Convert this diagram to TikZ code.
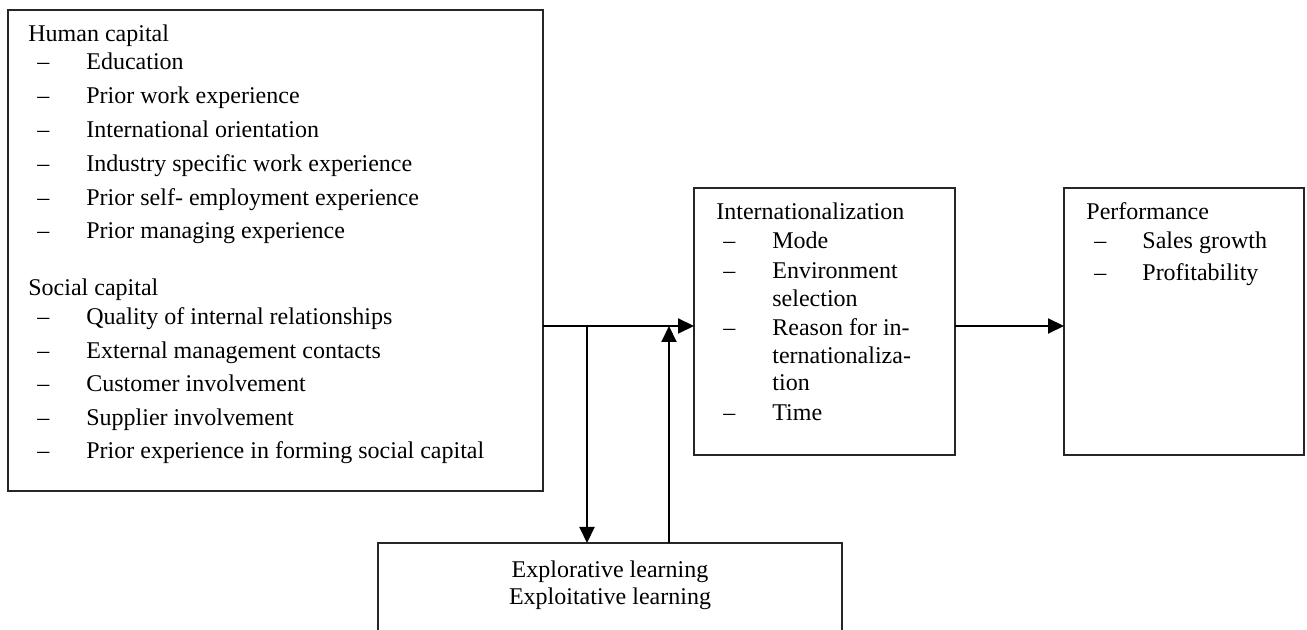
\documentclass[tikz,border=0pt]{standalone}
\usepackage{fontspec}
\setmainfont{Liberation Serif}
\usetikzlibrary{arrows.meta}
\begin{document}
\begin{tikzpicture}[x=0.5pt,y=-0.5pt,
  box/.style={draw=black!85,line width=0.7pt,rectangle,inner sep=0pt,outer sep=0pt,anchor=north west},
  txt/.style={anchor=base west,inner sep=0pt,font=\fontsize{12}{13.8}\selectfont},
  ctxt/.style={anchor=base,inner sep=0pt,font=\fontsize{12}{13.8}\selectfont},
  arr/.style={line width=1pt,-{Triangle[length=8pt,width=7.5pt]}}]
\useasboundingbox (0,0) rectangle (1307,630);
\clip (0,0) rectangle (1307,630);

% boxes
\node[box,minimum width=267.5pt,minimum height=240.5pt] (big) at (8,10) {};
\node[box,minimum width=130.5pt,minimum height=133.5pt] (int) at (694,188) {};
\node[box,minimum width=120pt,minimum height=133.5pt] (perf) at (1064,188) {};
\node[box,minimum width=232pt,minimum height=78.5pt] (bot) at (378,543) {};

% big box text
\node[txt] (hc) at (28,42) {Human capital};
\foreach \n/\y/\t in {1/70/Education,2/103.8/Prior work experience,3/137.6/International orientation,4/171.4/Industry specific work experience,5/205.2/Prior self- employment experience,6/239/Prior managing experience}{
  \node[txt] (hd\n) at (37,\y) {–};
  \node[txt] (ht\n) at (86,\y) {\t};
}
\node[txt] (sc) at (28,296) {Social capital};
\foreach \n/\y/\t in {1/325/Quality of internal relationships,2/358.5/External management contacts,3/392/Customer involvement,4/425.5/Supplier involvement,5/459/Prior experience in forming social capital}{
  \node[txt] (sd\n) at (37,\y) {–};
  \node[txt] (st\n) at (86,\y) {\t};
}

% internationalization text
\node[txt] (ih) at (716,220) {Internationalization};
\foreach \n/\y in {1/249,2/278.5,3/335.6,4/420.3}{
  \node[txt] (id\n) at (723,\y) {–};
}
\node[txt] (it1) at (772,249) {Mode};
\node[txt] (it2) at (772,278.5) {Environment};
\node[txt] (it2b) at (772,306.1) {selection};
\node[txt] (it3) at (772,335.6) {Reason for in-};
\node[txt] (it3b) at (772,363.2) {ternationaliza-};
\node[txt] (it3c) at (772,390.8) {tion};
\node[txt] (it4) at (772,420.3) {Time};

% performance text
\node[txt] (ph) at (1086,220) {Performance};
\node[txt] (pd1) at (1094,249) {–};
\node[txt] (pt1) at (1142,249) {Sales growth};
\node[txt] (pd2) at (1094,281) {–};
\node[txt] (pt2) at (1142,281) {Profitability};

% learning text
\node[ctxt] (l1) at (610,577) {Explorative learning};
\node[ctxt] (l2) at (610,604) {Exploitative learning};

% connectors
\coordinate (j1) at (587,326);
\coordinate (j2) at (669,326);
\draw[arr] (big.east |- j1) -- (int.west |- j1);
\draw[arr] (j1) -- (j1 |- bot.north);
\draw[arr] (j2 |- bot.north) -- (j2);
\draw[arr] (int.east |- j1) -- (perf.west |- j1);
\end{tikzpicture}
\end{document}
